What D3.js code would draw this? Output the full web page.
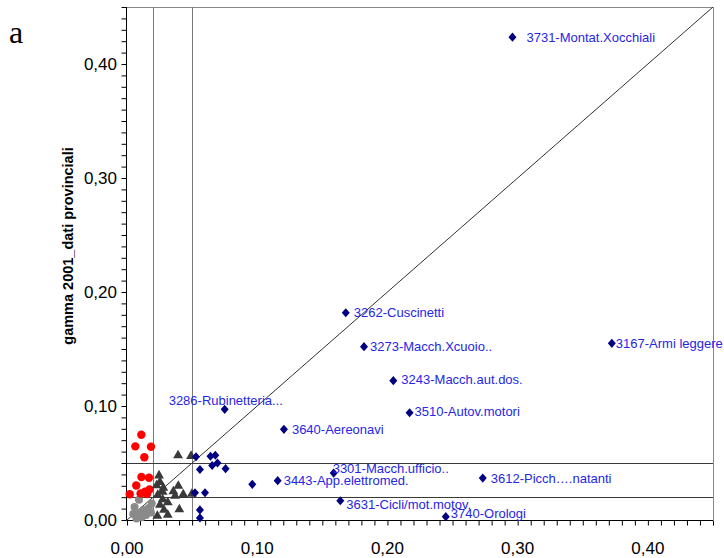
<!DOCTYPE html>
<html>
<head>
<meta charset="utf-8">
<script src="https://cdn.jsdelivr.net/npm/d3@7"></script>
<style>
  html, body { margin: 0; padding: 0; background: #fff; }
  svg { display: block; }
</style>
</head>
<body>
<svg id="chart" width="724" height="558"></svg>
<script>
// Sector specialisation: x = gamma (national), y = gamma 2001 provincial data
const sectorNames = [
  "3731-Montat.Xocchiali", "3262-Cuscinetti", "3273-Macch.Xcuoio..", "3243-Macch.aut.dos.",
  "3286-Rubinetteria...", "3510-Autov.motori", "3640-Aereonavi", "3301-Macch.ufficio..",
  "3443-App.elettromed.", "3631-Cicli/mot.motov.", "3740-Orologi", "3612-Picch….natanti",
  "3167-Armi leggere"
];
const sectorX = [0.296, 0.168, 0.182, 0.2045, 0.075, 0.217, 0.1205, 0.1587, 0.1157, 0.1638, 0.2448, 0.2732, 0.3723];
const sectorY = [0.4235, 0.1818, 0.152, 0.1222, 0.0971, 0.0941, 0.0795, 0.0412, 0.0345, 0.0169, 0.0029, 0.0368, 0.155];

// Unlabelled high-gamma sectors (navy diamonds)
const otherHighX = [0.053, 0.056, 0.0641, 0.0678, 0.0654, 0.0695, 0.0757, 0.0522, 0.0599, 0.056, 0.056, 0.0962];
const otherHighY = [0.0555, 0.0443, 0.0559, 0.0568, 0.0478, 0.05, 0.045, 0.0239, 0.0239, 0.0088, 0.0018, 0.0313];

// Medium sectors (dark triangles)
const midX = [0.0392, 0.0492, 0.0246, 0.0253, 0.0228, 0.0279, 0.0274, 0.0236, 0.0394, 0.0356,
              0.0369, 0.0432, 0.0498, 0.0274, 0.0253, 0.0313, 0.0402, 0.0313, 0.0233, 0.0284];
const midY = [0.0566, 0.0561, 0.039, 0.0333, 0.0303, 0.0281, 0.0246, 0.0219, 0.0298, 0.025,
              0.0211, 0.0224, 0.0228, 0.018, 0.0132, 0.0154, 0.0092, 0.0044, 0.0035, 0.0088];

// Low national gamma, higher provincial gamma (red circles)
const redX = [0.011, 0.0064, 0.0184, 0.0133, 0.0111, 0.0169, 0.0071, 0.0021, 0.0138, 0.0173, 0.0154, 0.0104];
const redY = [0.0748, 0.0646, 0.0642, 0.055, 0.0377, 0.037, 0.0303, 0.0226, 0.0248, 0.0268, 0.0228, 0.0232];

// Low sectors (grey circles)
const lowX = [0.0058, 0.0092, 0.0048, 0.0096, 0.0073, 0.0125, 0.0167, 0.019, 0.0184, 0.0113, 0.0146];
const lowY = [0.0114, 0.0178, 0.0053, 0.0061, 0.0013, 0.0088, 0.0105, 0.0145, 0.0066, 0.0024, 0.0044];

// Threshold lines and axis ticks
const thresholds = [0.02, 0.05];
const majorTicks = [0, 0.1, 0.2, 0.3, 0.4];
const axisMax = 0.45;
const yTitle = "gamma 2001_dati provinciali";
const panelLetter = "a";

// Label placement (pixel offsets from each diamond to the text start / middle)
const labelOffsets = [
  [14, 0], [8, 0], [6, 0], [8, -1], [-56, -9], [5, -1], [8, 0],
  [-1, -5], [6, 0], [6, 4], [5, -3], [8, 0], [4, 0]
];

const svg = d3.select("#chart");
const plotLeft = 127, plotRight = 713, plotTop = 7, plotBottom = 520;

const x = d3.scaleLinear().domain([0, axisMax]).range([plotLeft, plotRight]);
const y = d3.scaleLinear().domain([0, axisMax]).range([plotBottom, plotTop]);

const fmt = v => d3.format(".2f")(v).replace(".", ",");
const minorTicks = d3.range(0, 45).map(i => i / 100).concat([0.45]);

// frame (top and right edges)
svg.append("line").attr("x1", plotLeft).attr("x2", plotRight).attr("y1", plotTop + 0.5).attr("y2", plotTop + 0.5)
  .attr("stroke", "#8a8a8a").attr("stroke-width", 1);
svg.append("line").attr("x1", plotRight + 0.5).attr("x2", plotRight + 0.5).attr("y1", plotTop).attr("y2", plotBottom)
  .attr("stroke", "#8a8a8a").attr("stroke-width", 1);

// vertical threshold lines
svg.selectAll("line.vthr").data(thresholds).join("line")
  .attr("class", "vthr")
  .attr("x1", d => Math.round(x(d)) + 0.5).attr("x2", d => Math.round(x(d)) + 0.5)
  .attr("y1", plotTop).attr("y2", plotBottom)
  .attr("stroke", "#7a7a7a").attr("stroke-width", 1);

// horizontal threshold lines
svg.selectAll("line.hthr").data(thresholds).join("line")
  .attr("class", "hthr")
  .attr("x1", plotLeft).attr("x2", plotRight)
  .attr("y1", d => Math.round(y(d)) + 0.5).attr("y2", d => Math.round(y(d)) + 0.5)
  .attr("stroke", "#3a3a3a").attr("stroke-width", 1);

// bisector y = x
svg.append("line")
  .attr("x1", x(0)).attr("y1", y(0)).attr("x2", x(axisMax)).attr("y2", y(axisMax))
  .attr("stroke", "#333").attr("stroke-width", 1);

// axes
const xAxis = d3.axisBottom(x).tickValues(minorTicks).tickSize(5).tickFormat("");
const yAxis = d3.axisLeft(y).tickValues(minorTicks).tickSize(5).tickFormat("");
const gx = svg.append("g").attr("transform", `translate(0,${plotBottom + 0.5})`).call(xAxis);
const gy = svg.append("g").attr("transform", `translate(${plotLeft - 0.5},0)`).call(yAxis);
[gx, gy].forEach(g => {
  g.select(".domain").attr("stroke", "#000").attr("stroke-width", 1);
  g.selectAll(".tick line").attr("stroke", "#000");
});
gx.select(".domain").attr("d", `M${plotLeft - 0.5},0H${plotRight}`);
gy.select(".domain").attr("d", `M0,${plotTop}V${plotBottom + 0.5}`);

// tick labels
svg.selectAll("text.xt").data(majorTicks).join("text")
  .attr("class", "xt")
  .attr("x", d => x(d)).attr("y", 554)
  .attr("text-anchor", "middle")
  .attr("font-family", "'Liberation Sans', Arial, sans-serif")
  .attr("font-size", 17).attr("fill", "#000")
  .text(fmt);
svg.selectAll("text.yt").data(majorTicks).join("text")
  .attr("class", "yt")
  .attr("x", 117).attr("y", d => y(d) + 6)
  .attr("text-anchor", "end")
  .attr("font-family", "'Liberation Sans', Arial, sans-serif")
  .attr("font-size", 17).attr("fill", "#000")
  .text(fmt);

// y-axis title
svg.append("text")
  .attr("transform", "translate(73,246) rotate(-90)")
  .attr("text-anchor", "middle")
  .attr("font-family", "'Liberation Sans', Arial, sans-serif")
  .attr("font-size", 14.5).attr("font-weight", "bold").attr("fill", "#000")
  .text(yTitle);

// panel letter
svg.append("text")
  .attr("x", 9).attr("y", 43)
  .attr("font-family", "'Liberation Serif', 'Times New Roman', serif")
  .attr("font-size", 32).attr("fill", "#000")
  .text(panelLetter);

// markers
const diamondType = {
  draw(ctx, size) {
    const w = 4, h = 4.6;
    ctx.moveTo(0, -h); ctx.lineTo(w, 0); ctx.lineTo(0, h); ctx.lineTo(-w, 0); ctx.closePath();
  }
};
const diamond = d3.symbol().type(diamondType);
const triangle = d3.symbol().type(d3.symbolTriangle).size(42);

const zip = (xs, ys) => xs.map((v, i) => ({ x: v, y: ys[i] }));

svg.append("g").selectAll("circle").data(zip(lowX, lowY)).join("circle")
  .attr("cx", d => x(d.x)).attr("cy", d => y(d.y)).attr("r", 4)
  .attr("fill", "#8a8a8a");

svg.append("g").selectAll("circle").data(zip(redX, redY)).join("circle")
  .attr("cx", d => x(d.x)).attr("cy", d => y(d.y)).attr("r", 4.2)
  .attr("fill", "#ff0000");

svg.append("g").selectAll("path").data(zip(midX, midY)).join("path")
  .attr("d", triangle)
  .attr("transform", d => `translate(${x(d.x)},${y(d.y)})`)
  .attr("fill", "#3a3a3a");

svg.append("g").selectAll("path").data(zip(otherHighX, otherHighY)).join("path")
  .attr("d", diamond)
  .attr("transform", d => `translate(${x(d.x)},${y(d.y)})`)
  .attr("fill", "#000080");

const sectors = sectorNames.map((n, i) => ({ name: n, x: sectorX[i], y: sectorY[i], off: labelOffsets[i] }));
svg.append("g").selectAll("path").data(sectors).join("path")
  .attr("d", diamond)
  .attr("transform", d => `translate(${x(d.x)},${y(d.y)})`)
  .attr("fill", "#000080");

svg.append("g").selectAll("text").data(sectors).join("text")
  .attr("x", d => x(d.x) + d.off[0])
  .attr("y", d => y(d.y) + d.off[1] + 4.5)
  .attr("font-family", "'Liberation Sans', Arial, sans-serif")
  .attr("font-size", 13).attr("fill", "#2626e6")
  .text(d => d.name);
</script>
</body>
</html>
